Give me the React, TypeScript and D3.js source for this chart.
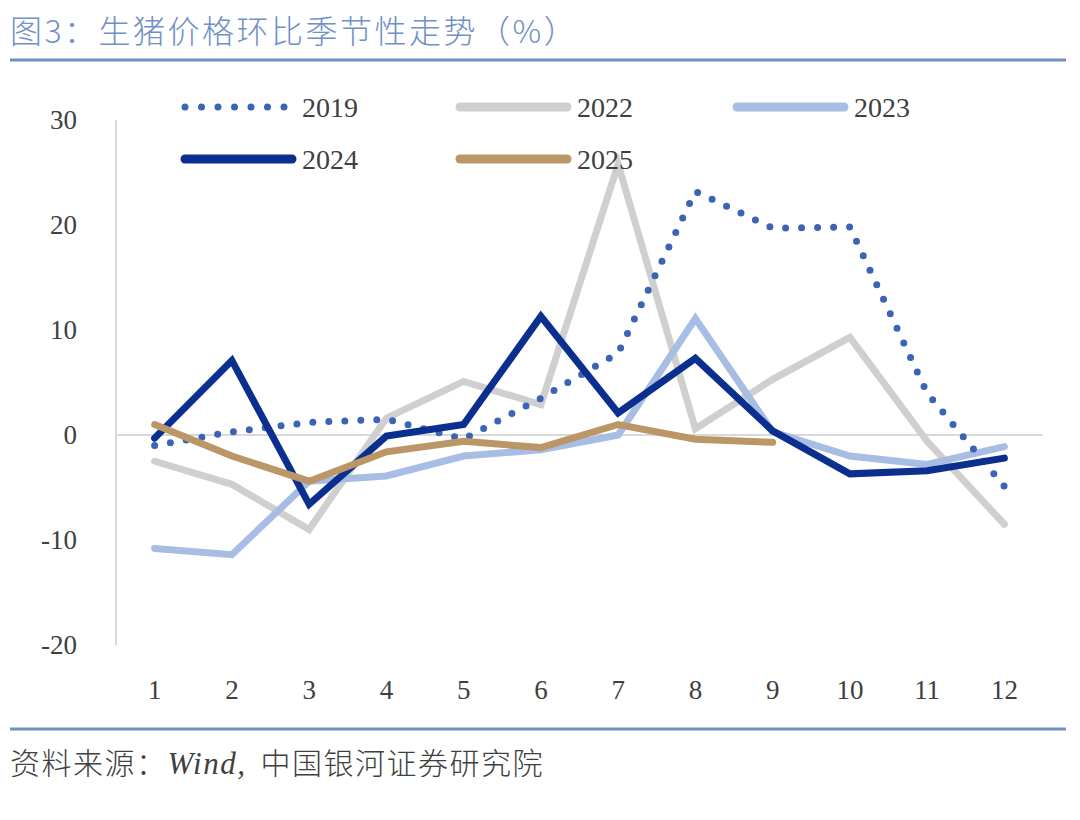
import React from 'react';
import * as d3 from 'd3';

// months on the x axis
const months = ['1', '2', '3', '4', '5', '6', '7', '8', '9', '10', '11', '12'];
const yTicks = [30, 20, 10, 0, -10, -20];

// month-on-month pig price change, %
const s2019 = [-1.0, 0.3, 1.2, 1.5, -0.4, 3.5, 7.8, 23.2, 19.7, 19.8, 4.0, -4.9];
const s2022 = [-2.5, -4.7, -9.0, 1.6, 5.1, 2.9, 25.8, 0.6, 5.3, 9.3, -0.6, -8.5];
const s2023 = [-10.8, -11.4, -4.4, -3.9, -2.0, -1.4, 0.0, 11.1, 0.3, -2.0, -2.8, -1.1];
const s2024 = [-0.3, 7.1, -6.6, -0.1, 1.0, 11.3, 2.1, 7.3, 0.4, -3.7, -3.4, -2.2];
const s2025 = [1.0, -2.0, -4.4, -1.6, -0.6, -1.2, 1.0, -0.4, -0.7];

interface Series {
  name: string;
  values: number[];
  color: string;
  dotted?: boolean;
}

const series: Series[] = [
  { name: '2019', values: s2019, color: '#3b65b4', dotted: true },
  { name: '2022', values: s2022, color: '#d0cfcf' },
  { name: '2023', values: s2023, color: '#a8bde3' },
  { name: '2024', values: s2024, color: '#0a2f8e' },
  { name: '2025', values: s2025, color: '#bb9767' },
];
// paint order
const drawOrder = ['2022', '2023', '2019', '2024', '2025'];

const W = 1080;
const H = 820;
const plot = { left: 116, right: 1043, top: 120, bottom: 645 };

const serif = '"Liberation Serif", "DejaVu Serif", serif';
const cjk = '"Noto Sans CJK SC", sans-serif';

export default function App() {
  const x = d3.scaleBand<string>().domain(months).range([plot.left, plot.right]);
  const y = d3.scaleLinear().domain([-20, 30]).range([plot.bottom, plot.top]);

  const line = d3
    .line<number>()
    .x((_, i) => (x(months[i]) ?? 0) + x.bandwidth() / 2)
    .y(d => y(d));

  const legendPos: Record<string, [number, number]> = {
    '2019': [185, 107],
    '2022': [460, 107],
    '2023': [737, 107],
    '2024': [185, 159],
    '2025': [460, 159],
  };

  return (
    <svg
      width={W}
      height={H}
      style={{ position: 'absolute', left: 0, top: 0, background: '#fff' }}
    >
      {/* title */}
      <text
        x={10}
        y={43}
        fontFamily={cjk}
        fontWeight={300}
        fontSize={32}
        letterSpacing={2.5}
        fill="#7090c6"
      >
        图3：生猪价格环比季节性走势（%）
      </text>
      <line x1={10} x2={1066} y1={60} y2={60} stroke="#7190c2" strokeWidth={3} />

      {/* axes */}
      <line x1={plot.left} x2={plot.left} y1={plot.top} y2={plot.bottom} stroke="#d9d9d9" strokeWidth={2} />
      <line x1={plot.left} x2={plot.right} y1={y(0)} y2={y(0)} stroke="#d9d9d9" strokeWidth={2} />

      {yTicks.map(t => (
        <text
          key={t}
          x={77}
          y={y(t)}
          dy="0.35em"
          textAnchor="end"
          fontFamily={serif}
          fontSize={27}
          fill="#404040"
        >
          {t}
        </text>
      ))}
      {months.map(m => (
        <text
          key={m}
          x={(x(m) ?? 0) + x.bandwidth() / 2}
          y={699}
          textAnchor="middle"
          fontFamily={serif}
          fontSize={27}
          fill="#404040"
        >
          {m}
        </text>
      ))}

      {/* series */}
      {drawOrder.map(name => {
        const s = series.find(d => d.name === name)!;
        return (
          <path
            key={s.name}
            d={line(s.values) ?? ''}
            fill="none"
            stroke={s.color}
            strokeWidth={7}
            strokeLinecap="round"
            strokeLinejoin={s.dotted ? 'round' : 'miter'}
            strokeDasharray={s.dotted ? '0 16' : undefined}
          />
        );
      })}

      {/* legend */}
      {series.map(s => {
        const [lx, ly] = legendPos[s.name];
        return (
          <g key={s.name}>
            <line
              x1={lx}
              x2={lx + 107}
              y1={ly}
              y2={ly}
              stroke={s.color}
              strokeWidth={s.dotted ? 7 : 9}
              strokeLinecap="round"
              strokeDasharray={s.dotted ? '0 16.5' : undefined}
            />
            <text x={lx + 117} y={ly} dy="0.35em" fontFamily={serif} fontSize={28} fill="#404040">
              {s.name}
            </text>
          </g>
        );
      })}

      {/* footer */}
      <line x1={10} x2={1066} y1={729} y2={729} stroke="#7190c2" strokeWidth={3} />
      <text
        x={10}
        y={774}
        fontFamily={cjk}
        fontWeight={300}
        fontSize={30}
        letterSpacing={1.5}
        fill="#404040"
      >
        资料来源：
        <tspan fontFamily={serif} fontStyle="italic" fontSize={31}>Wind,</tspan>
        <tspan dx={14}>中国银河证券研究院</tspan>
      </text>
    </svg>
  );
}
